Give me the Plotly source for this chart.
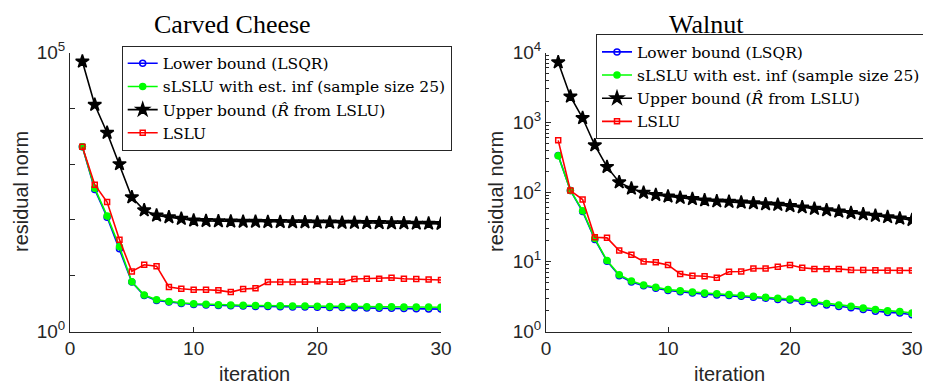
import plotly.graph_objects as go

iterations = list(range(1, 31))

# Carved Cheese
cc_lower = [2040, 350, 112, 30.5, 7.7, 4.4, 3.6, 3.37, 3.18, 3.05, 2.98, 2.92, 2.88, 2.85, 2.82,
            2.80, 2.78, 2.76, 2.74, 2.72, 2.70, 2.68, 2.66, 2.64, 2.62, 2.60, 2.58, 2.56, 2.54, 2.52]
cc_slslu = [2040, 370, 118, 33, 7.8, 4.5, 3.7, 3.45, 3.27, 3.15, 3.08, 3.03, 2.99, 2.96, 2.93,
            2.91, 2.89, 2.87, 2.85, 2.84, 2.82, 2.81, 2.80, 2.79, 2.78, 2.77, 2.76, 2.75, 2.74, 2.72]
cc_upper = [69000, 11600, 3650, 1000, 255, 149, 120, 112, 105, 98, 96, 95, 94, 93, 93,
            92, 92, 91, 91, 90, 90, 89, 89, 88, 88, 87, 87, 86, 86, 85]
cc_lslu = [2040, 427, 209, 44.3, 11.9, 15.7, 14.8, 6.27, 5.85, 5.61, 5.61, 5.46, 5.09, 5.77, 5.93,
           7.71, 7.71, 7.71, 7.76, 7.94, 7.76, 7.76, 8.71, 8.83, 8.83, 9.20, 8.83, 8.71, 8.51, 8.38]

# Walnut
w_lower = [335, 105, 52.5, 20.9, 10.2, 6.31, 5.13, 4.53, 4.17, 3.87, 3.72, 3.55, 3.43, 3.35, 3.27,
           3.21, 3.09, 3.00, 2.88, 2.82, 2.69, 2.57, 2.40, 2.29, 2.19, 2.07, 1.95, 1.88, 1.84, 1.74]
w_slslu = [330, 105, 54, 21.5, 10.4, 6.5, 5.3, 4.65, 4.3, 4.0, 3.85, 3.68, 3.56, 3.47, 3.38,
           3.3, 3.2, 3.1, 3.0, 2.92, 2.8, 2.67, 2.52, 2.4, 2.3, 2.18, 2.07, 1.99, 1.93, 1.84]
w_upper = [7240, 2340, 1150, 468, 229, 138, 112, 98, 91, 86.5, 82.8, 79.4, 75.9, 73.5, 72.4,
           70.8, 69.2, 67.0, 65.6, 63.1, 60.3, 57.5, 55.0, 52.5, 50.1, 47.9, 45.7, 43.7, 41.7, 39.8]
w_lslu = [550, 105, 78, 22.5, 22, 14.5, 12.6, 10.1, 9.8, 9.0, 6.7, 6.3, 6.2, 5.9, 7.2,
          7.25, 8.0, 8.0, 8.5, 9.0, 8.2, 7.9, 7.9, 7.9, 7.6, 7.6, 7.55, 7.5, 7.5, 7.5]

series_names = ["Lower bound (LSQR)",
                "sLSLU with est. inf (sample size 25)",
                "Upper bound (<i>R\u0302</i> from LSLU)",
                "LSLU"]

x_ticks = [0, 10, 20, 30]
cc_yticks = [1, 10, 100, 1000, 10000, 100000]
cc_yticktext = ["10<sup>0</sup>", "", "", "", "", "10<sup>5</sup>"]
w_yticks = [1, 10, 100, 1000, 10000]
w_yticktext = ["10<sup>0</sup>", "10<sup>1</sup>", "10<sup>2</sup>", "10<sup>3</sup>", "10<sup>4</sup>"]
w_minor = [m * 10 ** d for d in range(4) for m in range(2, 10)]

styles = [
    dict(color="#0000ff", symbol="circle-open", size=6, lw=1.6),
    dict(color="#00ff00", symbol="circle", size=6, lw=1.6),
    dict(color="#000000", symbol="star", size=10, lw=1.6),
    dict(color="#ff0000", symbol="square-open", size=5, lw=1.6),
]

fig = go.Figure()

def add_set(data, xa, ya, legend):
    for name, ys, st in zip(series_names, data, styles):
        fig.add_trace(go.Scatter(
            x=iterations, y=ys, name=name, mode="lines+markers",
            line=dict(color=st["color"], width=st["lw"]),
            marker=dict(symbol=st["symbol"], size=st["size"], color=st["color"],
                        line=dict(color=st["color"], width=1.5)),
            xaxis=xa, yaxis=ya, legend=legend))

add_set([cc_lower, cc_slslu, cc_upper, cc_lslu], "x", "y", "legend")
add_set([w_lower, w_slslu, w_upper, w_lslu], "x2", "y2", "legend2")

# page has an 8px body margin; figure sized to stay inside the visible page
W, H = 915, 380
ydom = [1 - 323.5 / H, 1 - 44.5 / H]
axis_common = dict(showline=True, linecolor="#262626", linewidth=1, ticks="inside",
                   ticklen=5, tickcolor="#262626", showgrid=False, zeroline=False,
                   tickfont=dict(family="Liberation Sans, Arial", size=19, color="#262626"),
                   mirror=False, automargin=False, ticklabeloverflow="allow")

legend_common = dict(bgcolor="white", bordercolor="#262626", borderwidth=1,
                     font=dict(family="DejaVu Serif", size=15.5, color="#000000"),
                     xanchor="left", yanchor="top", tracegroupgap=0, itemwidth=30)

fig.update_layout(
    width=W, height=H, margin=dict(l=0, r=0, t=0, b=0, autoexpand=False),
    plot_bgcolor="white", paper_bgcolor="white",
    xaxis=dict(domain=[62 / W, 433 / W], range=[0, 30], tickvals=x_ticks, anchor="y", **axis_common),
    yaxis=dict(domain=ydom, type="log", range=[0, 5], tickvals=cc_yticks, ticktext=cc_yticktext,
               anchor="x", **axis_common),
    xaxis2=dict(domain=[538 / W, 904 / W], range=[0, 30], tickvals=x_ticks, anchor="y2", **axis_common),
    yaxis2=dict(domain=ydom, type="log", range=[0, 4], tickvals=w_yticks, ticktext=w_yticktext,
                anchor="x2",
                minor=dict(tickvals=w_minor, ticks="inside", ticklen=3, tickcolor="#262626", showgrid=False),
                **axis_common),
    legend=dict(x=113.7 / W, y=1 - 37.7 / H, **legend_common),
    legend2=dict(x=588 / W, y=1 - 26.3 / H, **legend_common),
    showlegend=True,
)

serif = dict(family="Liberation Serif, Times New Roman", size=26, color="#000000")
sans = dict(family="Liberation Sans, Arial", size=20, color="#262626")
annots = [
    dict(text="Carved Cheese", x=224 / W, y=1 - 16 / H, font=serif),
    dict(text="Walnut", x=698 / W, y=1 - 16 / H, font=serif),
    dict(text="iteration", x=246 / W, y=1 - 366 / H, font=sans),
    dict(text="iteration", x=721 / W, y=1 - 366 / H, font=sans),
    dict(text="residual norm", x=13 / W, y=1 - 184 / H, font=sans, textangle=-90),
    dict(text="residual norm", x=488 / W, y=1 - 184 / H, font=sans, textangle=-90),
]
for a in annots:
    fig.add_annotation(xref="paper", yref="paper", xanchor="center", yanchor="middle",
                       showarrow=False, **a)

fig.write_html("out.html")
